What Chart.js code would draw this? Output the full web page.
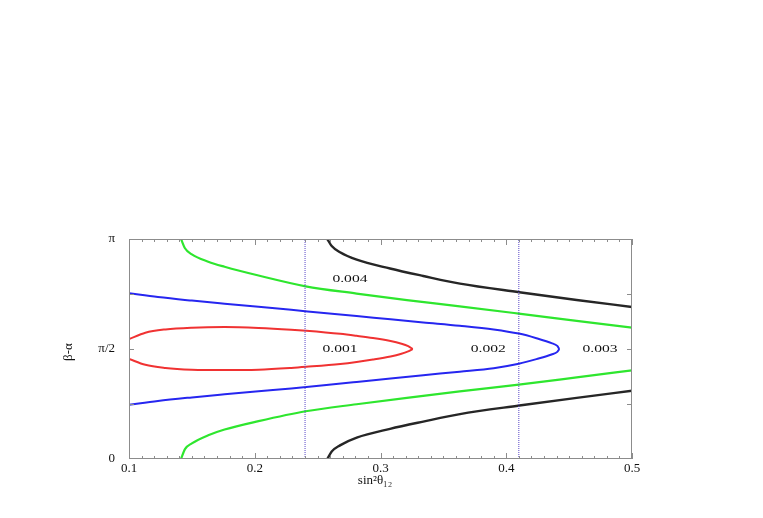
<!DOCTYPE html>
<html>
<head>
<meta charset="utf-8">
<title>beta-alpha vs sin2 theta12</title>
<script src="https://cdn.jsdelivr.net/npm/chart.js@4/dist/chart.umd.min.js"></script>
<style>
    html, body { margin: 0; padding: 0; background: #fff; }
    canvas { display: block; }
</style>
</head>
<body>
<canvas id="myChart" width="763" height="518"></canvas>
<script>
// y values are given in units of pi (0 -> 0, 1 -> pi)
const redX      = [0.100, 0.113, 0.129, 0.150, 0.176, 0.203, 0.229, 0.241, 0.268, 0.281, 0.294, 0.308, 0.316, 0.322, 0.3256];
const redUpper  = [0.545, 0.574, 0.589, 0.597, 0.600, 0.596, 0.588, 0.583, 0.569, 0.560, 0.550, 0.536, 0.525, 0.513, 0.500];
const redLower  = [0.455, 0.428, 0.414, 0.406, 0.404, 0.406, 0.414, 0.419, 0.432, 0.441, 0.452, 0.466, 0.477, 0.489, 0.500];

const blueX     = [0.100, 0.123, 0.150, 0.176, 0.203, 0.229, 0.255, 0.281, 0.308, 0.334, 0.363, 0.390, 0.410, 0.424, 0.436, 0.4406, 0.4422];
const blueUpper = [0.753, 0.736, 0.720, 0.706, 0.692, 0.678, 0.664, 0.650, 0.635, 0.621, 0.606, 0.589, 0.570, 0.549, 0.527, 0.514, 0.500];
const blueLower = [0.247, 0.264, 0.280, 0.294, 0.308, 0.321, 0.335, 0.350, 0.366, 0.381, 0.397, 0.413, 0.433, 0.454, 0.475, 0.487, 0.500];

const greenX     = [0.1414, 0.1445, 0.150, 0.163, 0.176, 0.203, 0.2405, 0.281, 0.321, 0.363, 0.410, 0.456, 0.500];
const greenUpper = [1.000, 0.958, 0.930, 0.897, 0.874, 0.834, 0.785, 0.752, 0.722, 0.694, 0.661, 0.628, 0.597];
const greenLower = [0.000, 0.045, 0.071, 0.108, 0.134, 0.172, 0.217, 0.249, 0.278, 0.307, 0.338, 0.371, 0.403];

const blackX     = [0.2577, 0.2612, 0.2678, 0.2811, 0.3076, 0.334, 0.3632, 0.4104, 0.456, 0.500];
const blackUpper = [1.000, 0.968, 0.940, 0.906, 0.866, 0.832, 0.797, 0.758, 0.723, 0.691];
const blackLower = [0.000, 0.034, 0.062, 0.097, 0.137, 0.170, 0.204, 0.243, 0.278, 0.310];

// dotted vertical lines
const refLinesX = [0.24, 0.41];

const contourLabels = ['0.001', '0.002', '0.003', '0.004'];
const contourLabelX = [0.2678, 0.3857, 0.4746, 0.2757];
const contourLabelY = [0.500, 0.500, 0.500, 0.818];

const xTicks = [0.1, 0.2, 0.3, 0.4, 0.5];
const xTickLabels = ['0.1', '0.2', '0.3', '0.4', '0.5'];
const yTicks = [0, 0.5, 1];
const yTickLabels = ['0', 'π/2', 'π'];
const yMinorTicks = [0.25, 0.5, 0.75];

const xTitle = 'sin²θ₁₂';
const yTitle = 'β-α';

const serif = '"Liberation Serif", "DejaVu Serif", serif';

function toPoints(xs, ys) {
    return xs.map((x, i) => ({ x: x, y: ys[i] }));
}

function curve(data, color, width) {
    return {
        data: data,
        borderColor: color,
        backgroundColor: color,
        borderWidth: width,
        pointRadius: 0,
        showLine: true,
        cubicInterpolationMode: 'monotone',
        fill: false
    };
}

document.addEventListener('DOMContentLoaded', function() {
    const ctx = document.getElementById('myChart').getContext('2d');

    const datasets = [];
    refLinesX.forEach(x => {
        datasets.push({
            data: [{ x: x, y: 0 }, { x: x, y: 1 }],
            borderColor: '#5a48c8',
            borderWidth: 1,
            borderDash: [1, 1],
            pointRadius: 0,
            showLine: true,
            tension: 0
        });
    });
    datasets.push(curve(toPoints(redX, redUpper), '#f03232', 2));
    datasets.push(curve(toPoints(redX, redLower), '#f03232', 2));
    datasets.push(curve(toPoints(blueX, blueUpper), '#2626f0', 2));
    datasets.push(curve(toPoints(blueX, blueLower), '#2626f0', 2));
    datasets.push(curve(toPoints(greenX, greenUpper), '#2ee62e', 2.2));
    datasets.push(curve(toPoints(greenX, greenLower), '#2ee62e', 2.2));
    datasets.push(curve(toPoints(blackX, blackUpper), '#262626', 2.4));
    datasets.push(curve(toPoints(blackX, blackLower), '#262626', 2.4));

    // frame, inward ticks, titles and contour labels
    const decorations = {
        id: 'decorations',
        afterDraw(chart) {
            const c = chart.ctx;
            const area = chart.chartArea;
            const xs = chart.scales.x;
            const ys = chart.scales.y;

            c.save();
            c.strokeStyle = '#8c8c8c';
            c.lineWidth = 1;
            c.strokeRect(area.left + 0.5, area.top + 0.5, area.right - area.left - 1, area.bottom - area.top - 1);

            c.beginPath();
            for (let k = 10; k <= 50; k++) {
                const px = Math.round(xs.getPixelForValue(k / 100)) + 0.5;
                const len = (k % 10 === 0) ? 6 : 3;
                c.moveTo(px, area.bottom);
                c.lineTo(px, area.bottom - len);
                c.moveTo(px, area.top);
                c.lineTo(px, area.top + len);
            }
            yMinorTicks.forEach(v => {
                const py = Math.round(ys.getPixelForValue(v)) + 0.5;
                c.moveTo(area.left, py);
                c.lineTo(area.left + 5, py);
                c.moveTo(area.right, py);
                c.lineTo(area.right - 5, py);
            });
            c.stroke();

            c.fillStyle = '#111';
            c.textAlign = 'center';
            c.textBaseline = 'middle';
            c.font = '13px ' + serif;
            contourLabels.forEach((txt, i) => {
                const px = xs.getPixelForValue(contourLabelX[i]);
                const py = ys.getPixelForValue(contourLabelY[i]);
                c.save();
                c.translate(px, py);
                c.scale(1.2, 0.85);
                c.fillText(txt, 0, 0);
                c.restore();
            });

            c.font = '13px ' + serif;
            c.fillText(xTitle, 375, 481);
            c.save();
            c.translate(69, 352);
            c.rotate(-Math.PI / 2);
            c.fillText(yTitle, 0, 0);
            c.restore();
            c.restore();
        }
    };

    new Chart(ctx, {
        type: 'scatter',
        data: { datasets: datasets },
        options: {
            responsive: false,
            animation: false,
            layout: {
                padding: { left: 0, top: 239, right: 131, bottom: 0 }
            },
            plugins: {
                legend: { display: false },
                tooltip: { enabled: false }
            },
            scales: {
                x: {
                    type: 'linear',
                    min: 0.1,
                    max: 0.5,
                    grid: { display: false, drawTicks: false },
                    border: { display: false },
                    afterBuildTicks: function(scale) {
                        scale.ticks = xTicks.map(v => ({ value: v }));
                    },
                    afterFit: function(scale) {
                        scale.height = 59;
                    },
                    ticks: {
                        padding: 2,
                        color: '#111',
                        maxRotation: 0,
                        font: { family: serif, size: 13 },
                        callback: function(value, index) {
                            return xTickLabels[index];
                        }
                    }
                },
                y: {
                    type: 'linear',
                    min: 0,
                    max: 1,
                    grid: { display: false, drawTicks: false },
                    border: { display: false },
                    afterBuildTicks: function(scale) {
                        scale.ticks = yTicks.map(v => ({ value: v }));
                    },
                    afterFit: function(scale) {
                        scale.width = 129;
                    },
                    ticks: {
                        padding: 14,
                        color: '#111',
                        font: { family: serif, size: 13 },
                        callback: function(value, index) {
                            return yTickLabels[index];
                        }
                    }
                }
            }
        },
        plugins: [decorations]
    });
});
</script>
</body>
</html>
